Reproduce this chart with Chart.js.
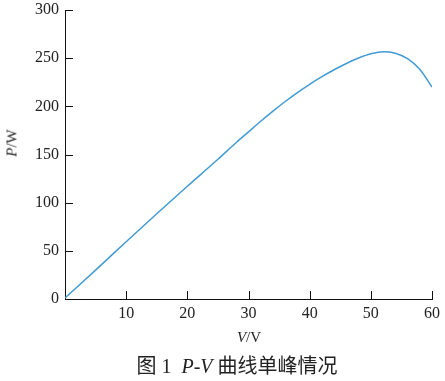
<!DOCTYPE html>
<html>
<head>
<meta charset="utf-8">
<script src="https://cdn.jsdelivr.net/npm/chart.js@4"></script>
<style>
  html, body { margin: 0; padding: 0; background: #fff; }
  #wrap { position: relative; width: 445px; height: 381px; }
  #pv { position: absolute; left: 0; top: 0; }
  .lbl { position: absolute; font-family: "Liberation Serif", "Noto Sans CJK SC", serif; color: #222; white-space: nowrap; }
  #ytitle { left: 12px; top: 143px; font-size: 15px; transform: translate(-50%, -50%) rotate(-90deg); }
  #xtitle { left: 249px; top: 337px; font-size: 15px; transform: translate(-50%, -50%); }
  #caption { left: 237px; top: 364px; font-size: 20px; transform: translate(-50%, -50%); }
</style>
</head>
<body>
<div id="wrap">
  <canvas id="pv" width="445" height="381"></canvas>
  <div class="lbl" id="ytitle"><i>P</i>/W</div>
  <div class="lbl" id="xtitle"><i>V</i>/V</div>
  <div class="lbl" id="caption">图 1&nbsp; <i>P</i>-<i>V</i> 曲线单峰情况</div>
</div>
<script>
// P-V curve
const voltage = [0, 5, 10, 15, 20, 25, 28, 30, 32, 34, 36, 38, 40, 42, 44, 46, 48, 50, 52, 54, 56, 58, 60];
const power = [1, 30, 59.5, 88.5, 117, 145, 162.5, 173.5, 184.5, 195, 205, 214.3, 222.9, 230.8, 238, 244.5, 250.1, 254.5, 256.7, 255.2, 249.5, 238.5, 220];
const xTicks = [10, 20, 30, 40, 50, 60];
const yTicks = [0, 50, 100, 150, 200, 250, 300];

const tickFont = { family: 'Liberation Serif', size: 16 };

// ticks point inward, so draw them ourselves from the scales
const innerTicks = {
    id: 'innerTicks',
    afterDraw(chart) {
        const ctx = chart.ctx;
        const xs = chart.scales.x, ys = chart.scales.y;
        ctx.save();
        ctx.strokeStyle = '#111';
        ctx.lineWidth = 1;
        ctx.beginPath();
        xTicks.forEach(v => {
            const px = Math.round(xs.getPixelForValue(v)) + 0.5;
            ctx.moveTo(px, ys.bottom);
            ctx.lineTo(px, ys.bottom - 8);
        });
        yTicks.forEach(v => {
            const py = Math.round(ys.getPixelForValue(v)) + 0.5;
            ctx.moveTo(xs.left, py);
            ctx.lineTo(xs.left + 8, py);
        });
        ctx.stroke();
        ctx.restore();
    }
};

function buildChart() {
    const ctx = document.getElementById('pv').getContext('2d');
    new Chart(ctx, {
        type: 'scatter',
        data: {
            datasets: [{
                data: voltage.map((v, i) => ({ x: v, y: power[i] })),
                showLine: true,
                borderColor: 'rgb(66, 155, 210)',
                borderWidth: 1.5,
                pointRadius: 0,
                cubicInterpolationMode: 'monotone',
                fill: false
            }]
        },
        options: {
            responsive: false,
            animation: false,
            layout: { padding: { left: 0, right: 13, top: 10, bottom: 0 } },
            plugins: { legend: { display: false }, tooltip: { enabled: false } },
            scales: {
                x: {
                    type: 'linear',
                    min: 0,
                    max: 60,
                    afterBuildTicks: s => { s.ticks = [0].concat(xTicks).map(v => ({ value: v })); },
                    afterFit: s => { s.height = 82; s.paddingRight = 0; s.paddingLeft = 0; },
                    grid: { display: false, tickLength: 0 },
                    border: { display: true, color: '#111', width: 1 },
                    ticks: {
                        color: '#222',
                        font: tickFont,
                        padding: 5,
                        maxRotation: 0,
                        callback: v => v === 0 ? '' : v
                    }
                },
                y: {
                    min: 0,
                    max: 300,
                    afterBuildTicks: s => { s.ticks = yTicks.map(v => ({ value: v })); },
                    afterFit: s => { s.width = 65; s.paddingTop = 0; s.paddingBottom = 0; },
                    grid: { display: false, tickLength: 0 },
                    border: { display: true, color: '#111', width: 1 },
                    ticks: { color: '#222', font: tickFont, padding: 6 }
                }
            }
        },
        plugins: [innerTicks]
    });
}

buildChart();
</script>
</body>
</html>
